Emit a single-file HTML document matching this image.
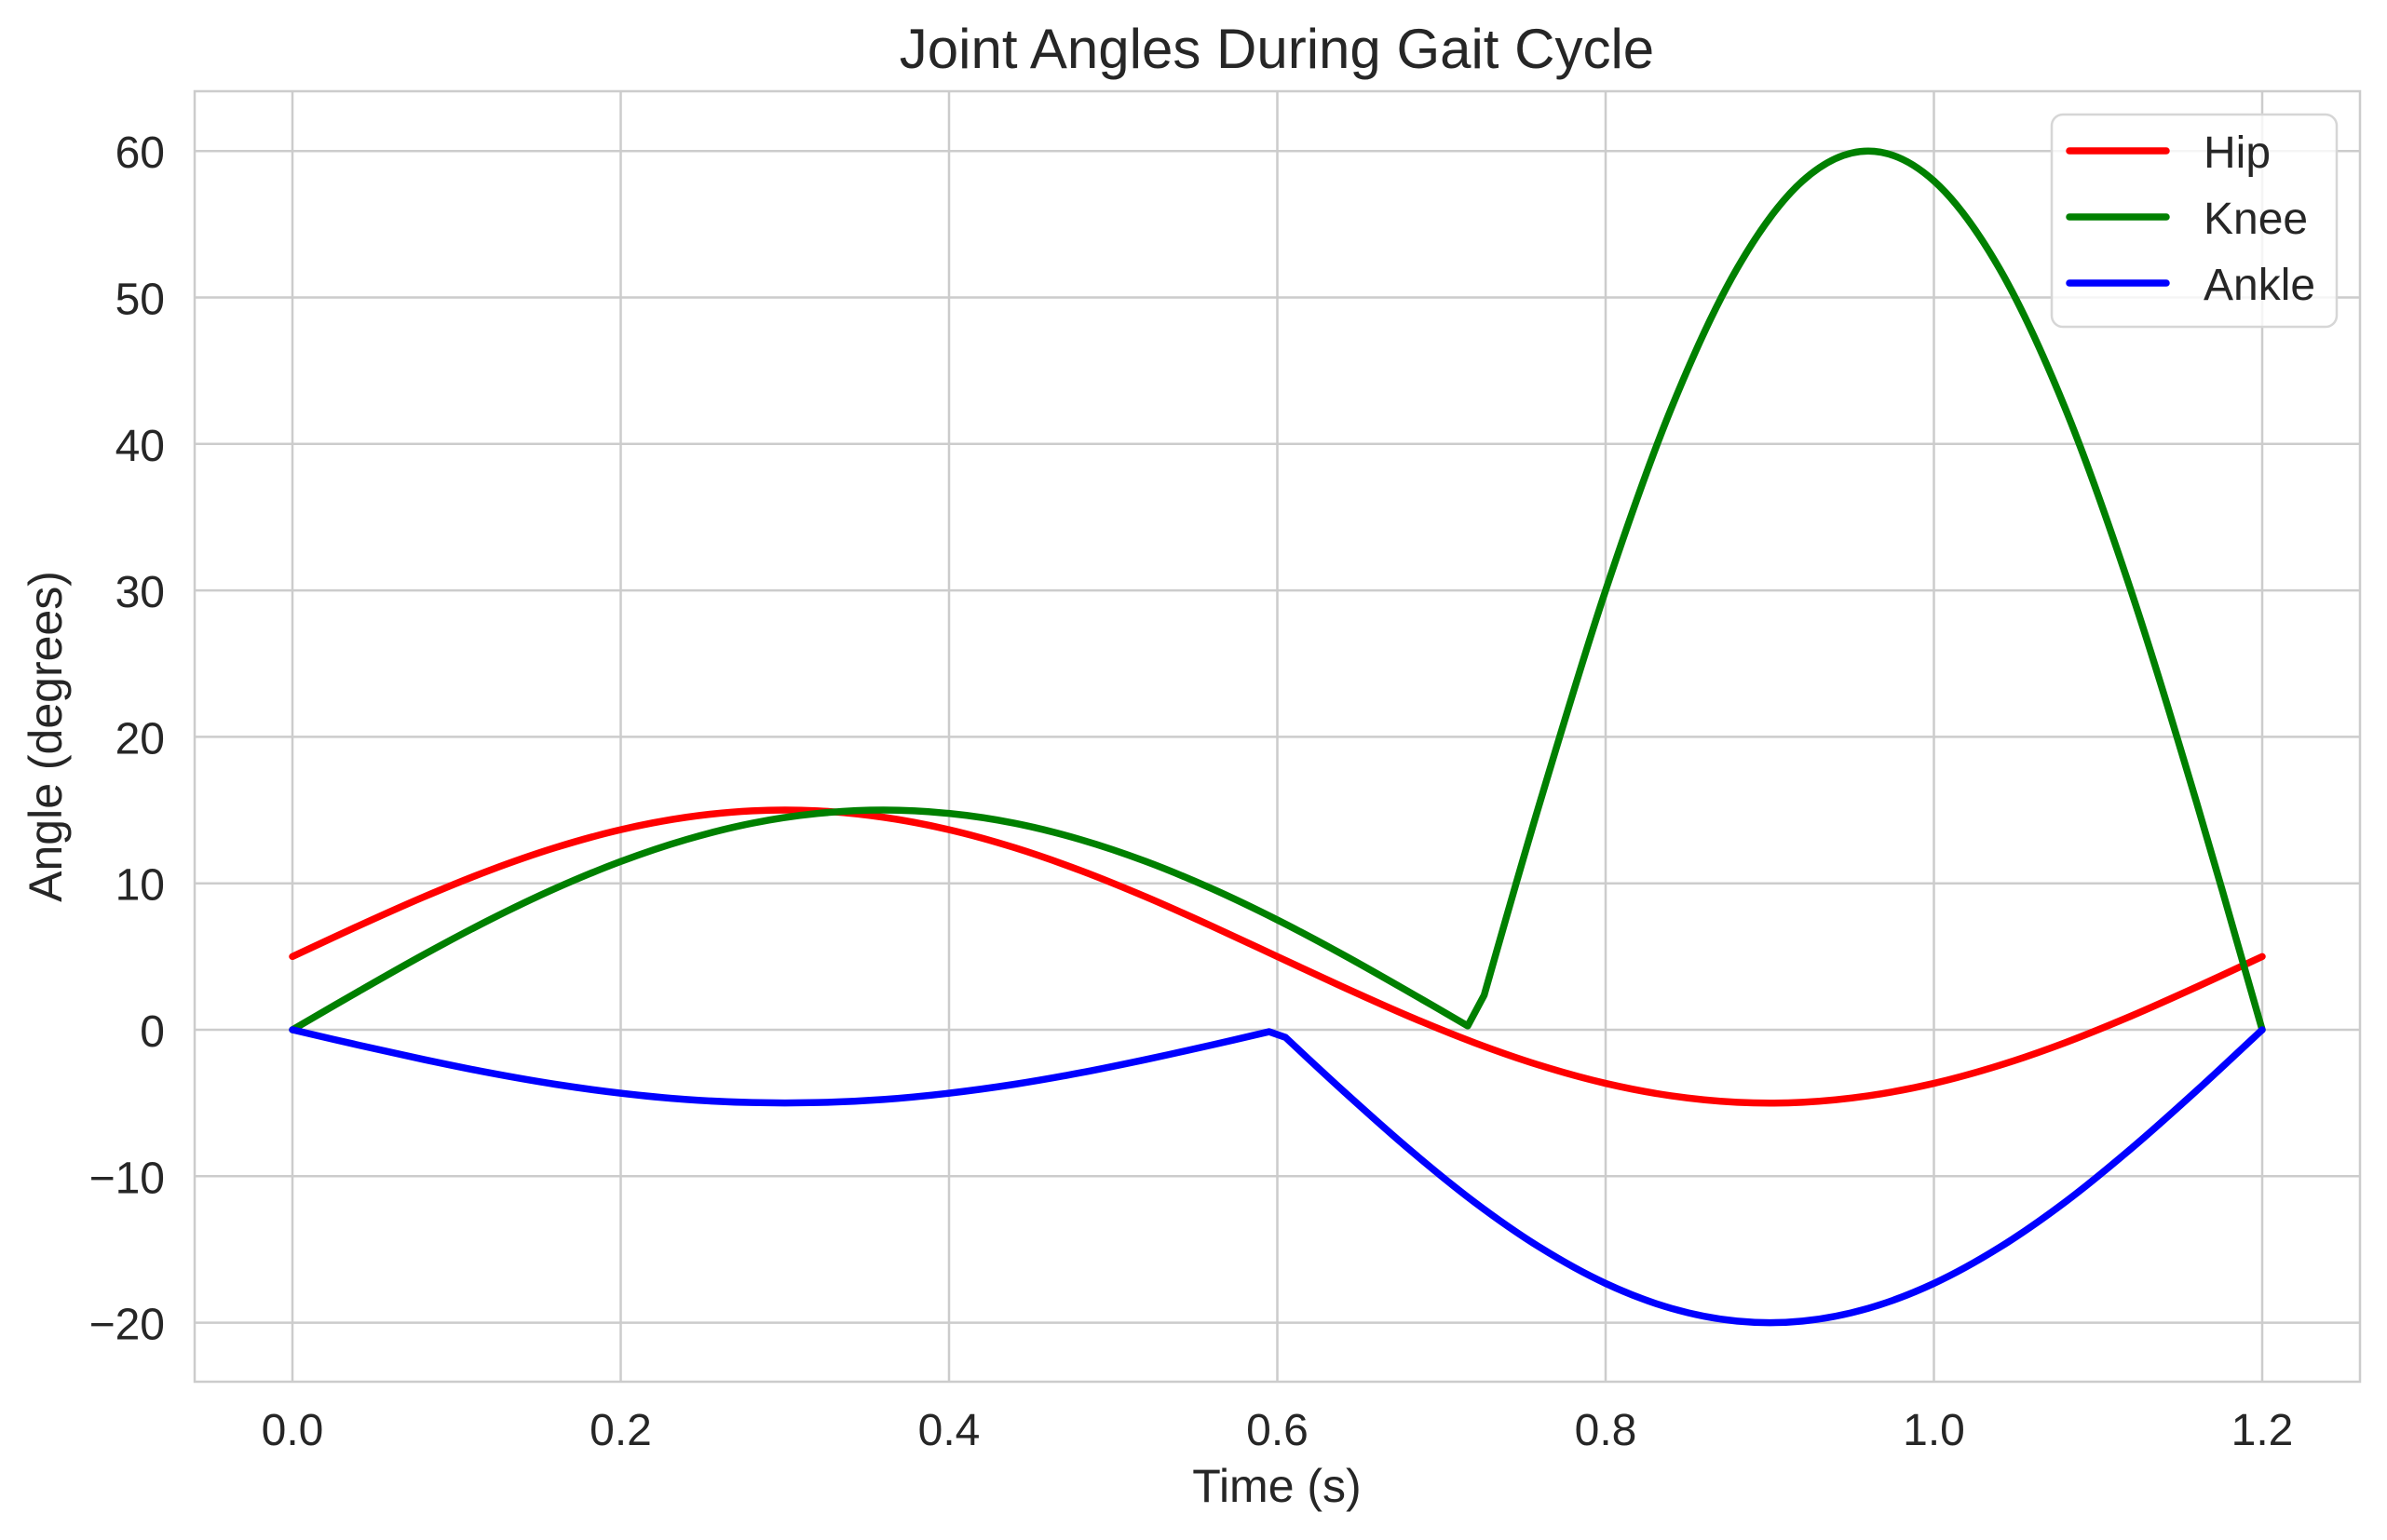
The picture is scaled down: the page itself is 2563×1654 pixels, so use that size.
<!DOCTYPE html>
<html><head><meta charset="utf-8"><style>
html,body{margin:0;padding:0;background:#fff;}
svg{display:block;font-family:"Liberation Sans",Arial,sans-serif;}
</style></head><body>
<svg id="chart" width="2563" height="1654" viewBox="0 0 2563 1654">
<rect x="0" y="0" width="2563" height="1654" fill="#fff"/>
<g id="grid"></g>
<rect x="209" y="98" width="2325" height="1386" fill="none" stroke="#cccccc" stroke-width="2.5"/>
<g id="series"></g>
<g id="ticks"></g>
<text x="1371" y="73" text-anchor="middle" font-size="60" fill="#262626">Joint Angles During Gait Cycle</text>
<text x="1371" y="1613" text-anchor="middle" font-size="50" fill="#262626">Time (s)</text>
<text transform="translate(66,791) rotate(-90)" text-anchor="middle" font-size="50" fill="#262626">Angle (degrees)</text>
<g id="legend">
<rect x="2203" y="123" width="306" height="228" rx="12" fill="#fff" fill-opacity="0.8" stroke="#d6d6d6" stroke-width="2.5"/>
</g>
</svg>
<script>
const xTicks = [0.0, 0.2, 0.4, 0.6, 0.8, 1.0, 1.2];
const xTickLabels = ["0.0","0.2","0.4","0.6","0.8","1.0","1.2"];
const yTicks = [-20, -10, 0, 10, 20, 30, 40, 50, 60];
const yTickLabels = ["\u221220","\u221210","0","10","20","30","40","50","60"];
const seriesNames = ["Hip","Knee","Ankle"];
const seriesColors = ["#ff0000","#008000","#0000ff"];
const hipT = [0,0.04,0.08,0.12,0.16,0.2,0.24,0.28,0.32,0.36,0.4,0.44,0.48,0.52,0.56,0.6,0.64,0.68,0.72,0.76,0.8,0.84,0.88,0.92,0.96,1.0,1.04,1.08,1.12,1.16,1.2];
const hipV = [5,7.08,9.07,10.88,12.43,13.66,14.51,14.95,14.95,14.51,13.66,12.43,10.88,9.07,7.08,5,2.92,0.93,-0.88,-2.43,-3.66,-4.51,-4.95,-4.95,-4.51,-3.66,-2.43,-0.88,0.93,2.92,5];
const kneeT = [0,0.04,0.08,0.12,0.16,0.2,0.24,0.28,0.32,0.36,0.4,0.44,0.48,0.52,0.56,0.6,0.64,0.68,0.716,0.726,0.76,0.8,0.84,0.88,0.92,0.96,1.0,1.04,1.08,1.12,1.16,1.2];
const kneeV = [0,2.6,5.13,7.5,9.64,11.49,12.99,14.1,14.77,15,14.77,14.1,12.99,11.49,9.64,7.5,5.13,2.6,0.26,2.36,15.53,30,42.43,51.96,57.96,60,57.96,51.96,42.43,30,15.53,0];
const ankleT = [0,0.04,0.08,0.12,0.16,0.2,0.24,0.28,0.32,0.36,0.4,0.44,0.48,0.52,0.56,0.595,0.605,0.64,0.68,0.72,0.76,0.8,0.84,0.88,0.92,0.96,1.0,1.04,1.08,1.12,1.16,1.2];
const ankleV = [0,-1.04,-2.03,-2.94,-3.72,-4.33,-4.76,-4.97,-4.97,-4.76,-4.33,-3.72,-2.94,-2.03,-1.04,-0.13,-0.52,-4.16,-8.13,-11.76,-14.86,-17.32,-19.02,-19.89,-19.89,-19.02,-17.32,-14.86,-11.76,-8.13,-4.16,0];

const NS = "http://www.w3.org/2000/svg";
const X0 = 314, XPER = 352.5/0.2;
const Y0 = 1106, YPER = 15.73;
function xScale(v){ return X0 + v*XPER; }
function yScale(v){ return Y0 - v*YPER; }
function mk(tag, attrs, parent){
  const e = document.createElementNS(NS, tag);
  for (const k in attrs) e.setAttribute(k, attrs[k]);
  parent.appendChild(e);
  return e;
}
const grid = document.getElementById('grid');
const ticks = document.getElementById('ticks');
xTicks.forEach((v,i)=>{
  const l = mk('line',{x1:xScale(v),x2:xScale(v),y1:98,y2:1484,stroke:'#cccccc','stroke-width':2.5},grid);
  
  
  const t = mk('text',{x:xScale(v),y:1552,'text-anchor':'middle','font-size':48,fill:'#262626'},ticks);
  t.textContent = xTickLabels[i];
  
  
});
yTicks.forEach((v,i)=>{
  const l = mk('line',{x1:209,x2:2534,y1:yScale(v),y2:yScale(v),stroke:'#cccccc','stroke-width':2.5},grid);
  
  
  const t = mk('text',{x:177,y:yScale(v)+18,'text-anchor':'end','font-size':48,fill:'#262626'},ticks);
  t.textContent = yTickLabels[i];
  
  
});
function smoothPath(ts, vs){
  const p = ts.map((t,i)=>[xScale(t), yScale(vs[i])]);
  let d = 'M'+p[0][0]+','+p[0][1];
  for (let i=0;i<p.length-1;i++){
    const p0 = p[Math.max(i-1,0)], p1 = p[i], p2 = p[i+1], p3 = p[Math.min(i+2,p.length-1)];
    const kink1 = i>0 && (ts[i]-ts[i-1] < 0.02 || ts[i+1]-ts[i] < 0.02);
    const kink2 = i+2<p.length && (ts[i+2]-ts[i+1] < 0.02 || ts[i+1]-ts[i] < 0.02);
    const a = kink1 ? p1 : [p1[0]+(p2[0]-p0[0])/6, p1[1]+(p2[1]-p0[1])/6];
    const b = kink2 ? p2 : [p2[0]-(p3[0]-p1[0])/6, p2[1]-(p3[1]-p1[1])/6];
    d += ' C'+a[0]+','+a[1]+' '+b[0]+','+b[1]+' '+p2[0]+','+p2[1];
  }
  return d;
}
const series = document.getElementById('series');
const allT = [hipT, kneeT, ankleT], allV = [hipV, kneeV, ankleV];
const lineNames = ['hip-line','knee-line','ankle-line'];
allT.forEach((ts,i)=>{
  const path = mk('path',{d:smoothPath(ts, allV[i]),fill:'none',stroke:seriesColors[i],'stroke-width':7.5,'stroke-linejoin':'round','stroke-linecap':'round'},series);
  
  
});
const legend = document.getElementById('legend');
seriesNames.forEach((n,i)=>{
  const y = 162 + i*71;
  const g = mk('g',{},legend);
  
  
  mk('line',{x1:2222,x2:2326,y1:y,y2:y,stroke:seriesColors[i],'stroke-width':7.5,'stroke-linecap':'round'},g);
  const t = mk('text',{x:2366,y:y+18,'font-size':48,fill:'#262626'},g);
  t.textContent = n;
});
</script>
</body></html>
